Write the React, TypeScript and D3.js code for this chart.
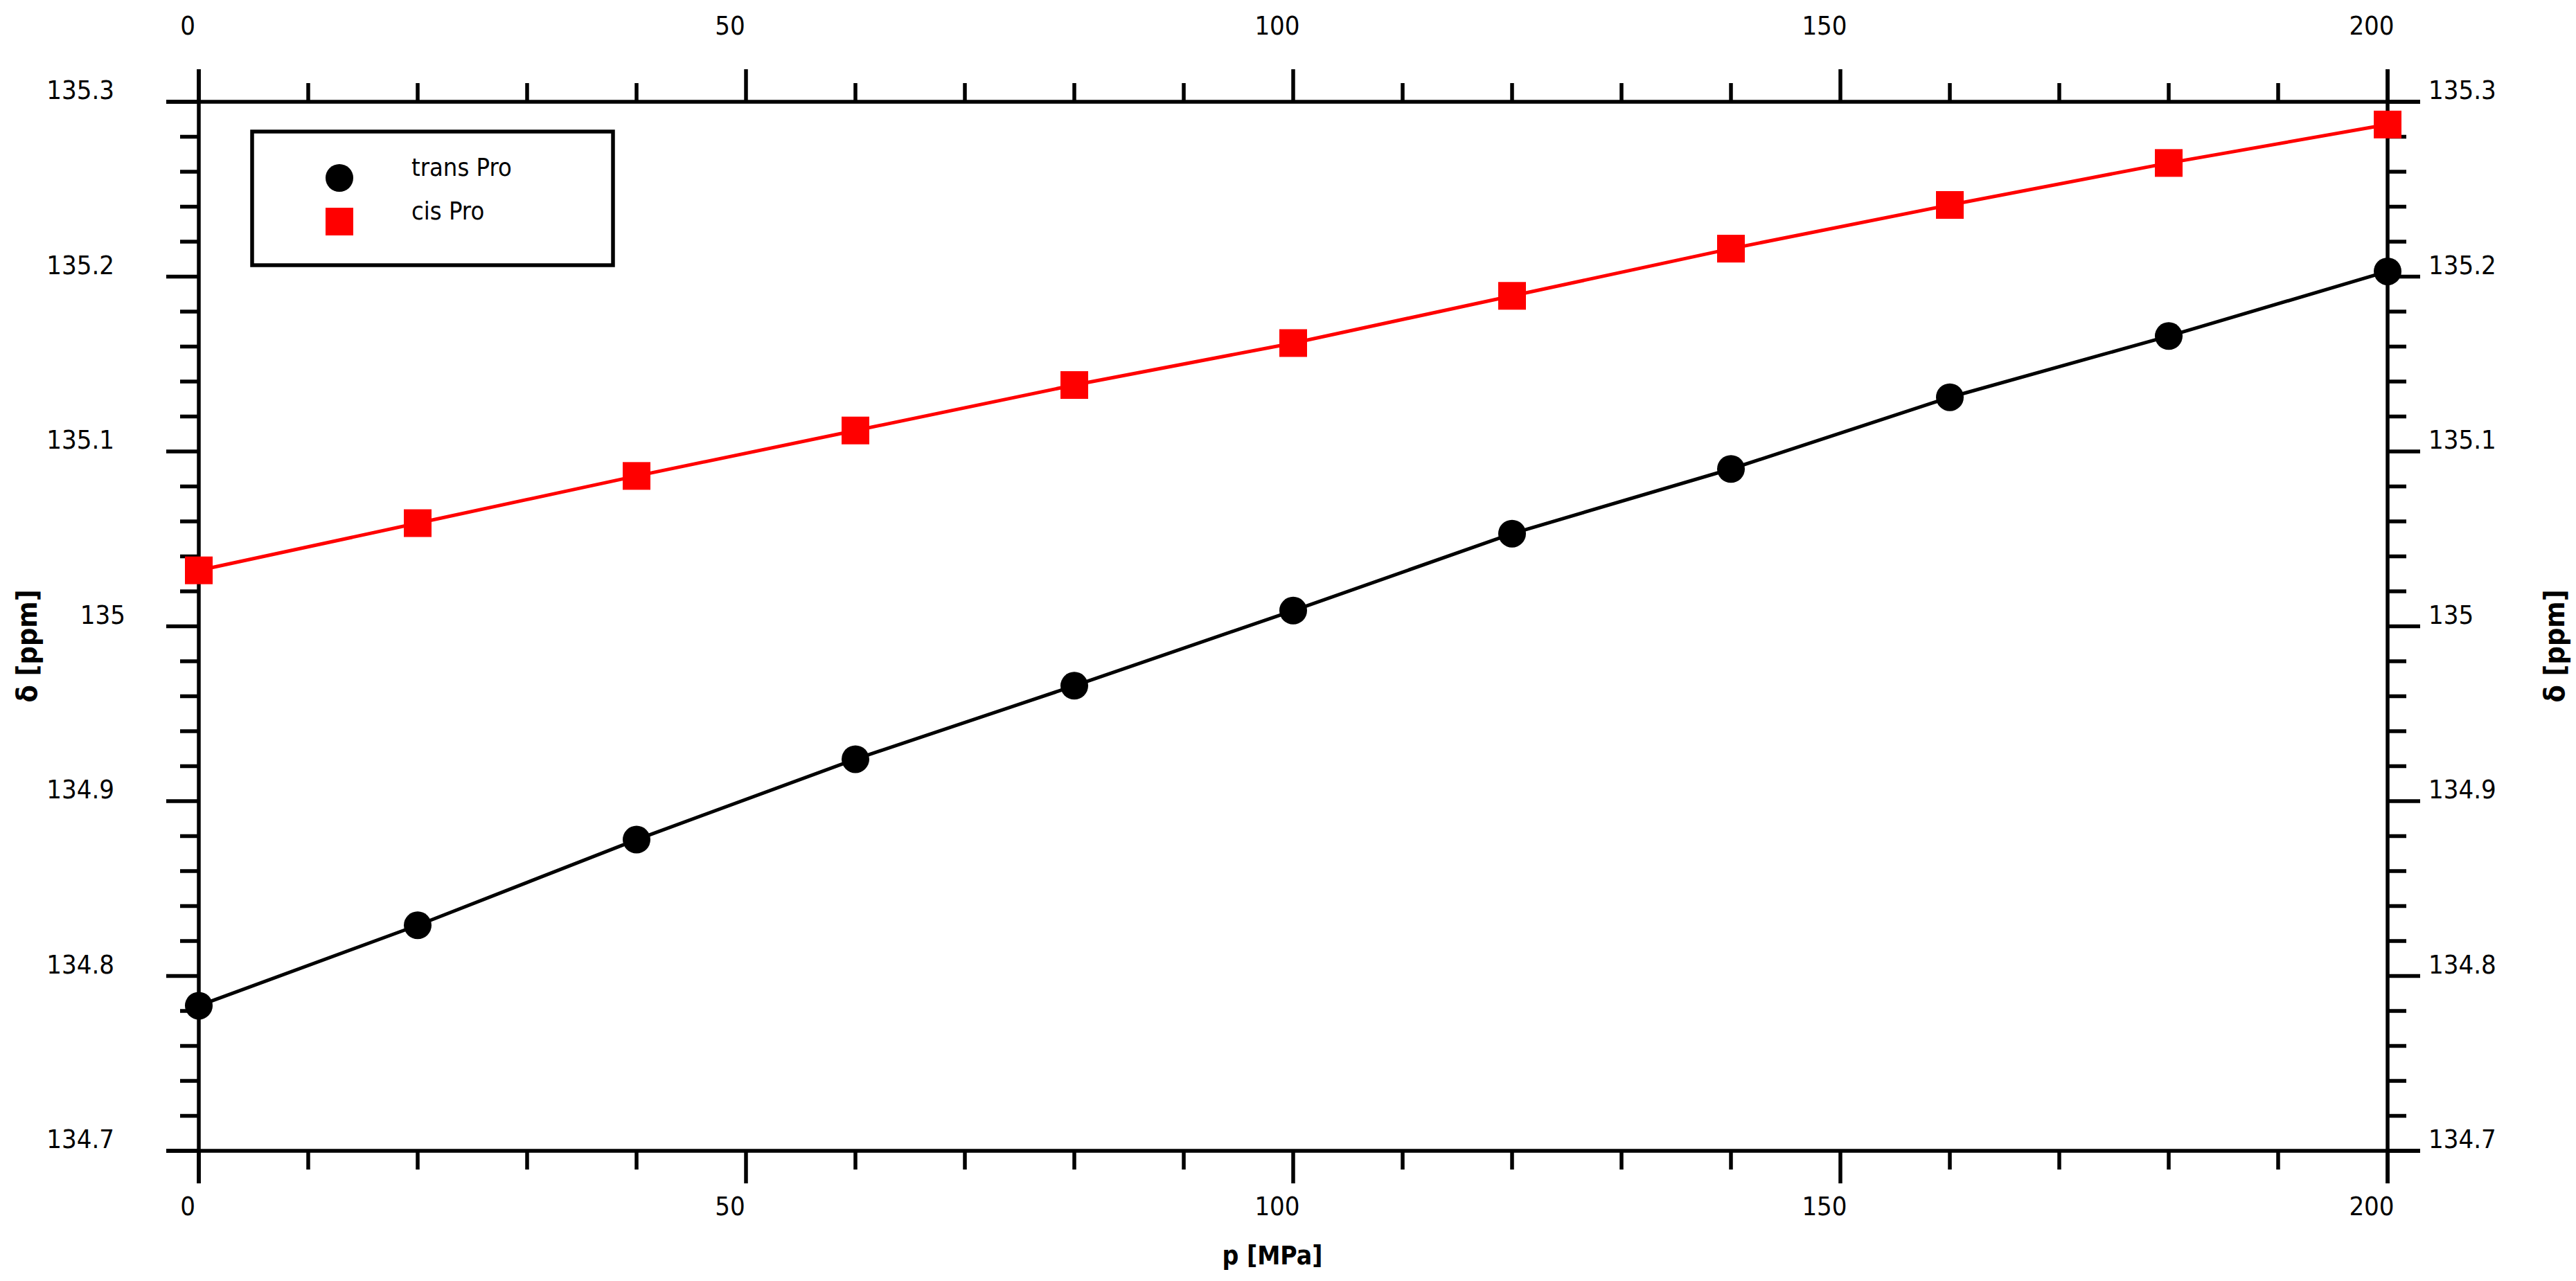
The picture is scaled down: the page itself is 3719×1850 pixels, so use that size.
import React from "react";
import * as d3 from "d3";

// ---- data ----
const pressures = [0, 20, 40, 60, 80, 100, 120, 140, 160, 180, 200];
const transPro = [134.783, 134.829, 134.878, 134.924, 134.966, 135.009, 135.053, 135.090, 135.131, 135.166, 135.203];
const cisPro = [135.032, 135.059, 135.086, 135.112, 135.138, 135.162, 135.189, 135.216, 135.241, 135.265, 135.287];

const xMajorTicks = [0, 50, 100, 150, 200];
const xTickLabels = ["0", "50", "100", "150", "200"];
const yMajorTicks = [134.7, 134.8, 134.9, 135.0, 135.1, 135.2, 135.3];
const yTickLabels = ["134.7", "134.8", "134.9", "135", "135.1", "135.2", "135.3"];

const seriesNames = ["trans Pro", "cis Pro"];
const seriesColors = ["#000000", "#ff0000"];

const W = 3719;
const H = 1850;
const L = 287, R = 3447, T = 147, B = 1662;
const MAJ = 47, MIN = 27;
const SW = 5.5;
const FONT = "'DejaVu Sans Condensed', 'DejaVu Sans', sans-serif";

export default function App() {
  const x = d3.scaleLinear().domain([0, 200]).range([L, R]);
  const y = d3.scaleLinear().domain([134.7, 135.3]).range([B, T]);

  const xMinor = x.ticks(20).filter((v) => !xMajorTicks.includes(v));
  const yMinor = y.ticks(30).filter((v) => !yMajorTicks.some((m) => Math.abs(m - v) < 1e-6));

  const line = d3
    .line<number>()
    .x((_, i) => x(pressures[i]))
    .y((d) => y(d));

  const xLabelDx = (s: string) => (s.length === 1 ? -16 : -23);

  return (
    <svg
      width={W}
      height={H}
      style={{ position: "absolute", left: 0, top: 0, background: "#fff" }}
      fontFamily={FONT}
    >
      <rect x={0} y={0} width={W} height={H} fill="#fff" />
      {/* axis lines (extending past frame) */}
      <g stroke="#000" strokeWidth={SW} fill="none">
        <line x1={L - MAJ} x2={R + MAJ} y1={T} y2={T} />
        <line x1={L - MAJ} x2={R + MAJ} y1={B} y2={B} />
        <line x1={L} x2={L} y1={T - MAJ} y2={B + MAJ} />
        <line x1={R} x2={R} y1={T - MAJ} y2={B + MAJ} />
        {/* x ticks */}
        {xMajorTicks.map((v) => (
          <g key={"xm" + v}>
            <line x1={x(v)} x2={x(v)} y1={T} y2={T - MAJ} />
            <line x1={x(v)} x2={x(v)} y1={B} y2={B + MAJ} />
          </g>
        ))}
        {xMinor.map((v) => (
          <g key={"xn" + v}>
            <line x1={x(v)} x2={x(v)} y1={T} y2={T - MIN} />
            <line x1={x(v)} x2={x(v)} y1={B} y2={B + MIN} />
          </g>
        ))}
        {/* y ticks */}
        {yMajorTicks.map((v) => (
          <g key={"ym" + v}>
            <line x1={L} x2={L - MAJ} y1={y(v)} y2={y(v)} />
            <line x1={R} x2={R + MAJ} y1={y(v)} y2={y(v)} />
          </g>
        ))}
        {yMinor.map((v) => (
          <g key={"yn" + v}>
            <line x1={L} x2={L - MIN} y1={y(v)} y2={y(v)} />
            <line x1={R} x2={R + MIN} y1={y(v)} y2={y(v)} />
          </g>
        ))}
      </g>

      {/* tick labels */}
      <g fontSize={38} fill="#000">
        {xMajorTicks.map((v, i) => (
          <g key={"xl" + v}>
            <text x={x(v) + xLabelDx(xTickLabels[i])} y={50} textAnchor="middle">
              {xTickLabels[i]}
            </text>
            <text x={x(v) + xLabelDx(xTickLabels[i])} y={1755} textAnchor="middle">
              {xTickLabels[i]}
            </text>
          </g>
        ))}
        {yMajorTicks.map((v, i) => (
          <g key={"yl" + v}>
            <text
              x={yTickLabels[i].includes(".") ? 165 : 181}
              y={y(v) - 4}
              textAnchor="end"
            >
              {yTickLabels[i]}
            </text>
            <text x={R + 59} y={y(v) - 4} textAnchor="start">
              {yTickLabels[i]}
            </text>
          </g>
        ))}
      </g>

      {/* axis titles */}
      <g fontWeight="bold" fill="#000">
        <text x={1837} y={1826} fontSize={37} textAnchor="middle">
          p [MPa]
        </text>
        <text
          transform={`translate(53, 933) rotate(-90)`}
          fontSize={41}
          textAnchor="middle"
        >
          δ [ppm]
        </text>
        <text
          transform={`translate(3702, 933) rotate(-90)`}
          fontSize={41}
          textAnchor="middle"
        >
          δ [ppm]
        </text>
      </g>

      {/* data lines */}
      <path d={line(transPro) || ""} fill="none" stroke={seriesColors[0]} strokeWidth={5} />
      <path d={line(cisPro) || ""} fill="none" stroke={seriesColors[1]} strokeWidth={5} />

      {/* markers */}
      {transPro.map((v, i) => (
        <circle key={"t" + i} cx={x(pressures[i])} cy={y(v)} r={20} fill={seriesColors[0]} />
      ))}
      {cisPro.map((v, i) => (
        <rect
          key={"c" + i}
          x={x(pressures[i]) - 20}
          y={y(v) - 20}
          width={40}
          height={40}
          fill={seriesColors[1]}
        />
      ))}

      {/* legend */}
      <rect x={364} y={190} width={521} height={193} fill="#fff" stroke="#000" strokeWidth={5.5} />
      <circle cx={490} cy={257} r={20} fill={seriesColors[0]} />
      <rect x={470} y={300} width={40} height={40} fill={seriesColors[1]} />
      <g fontSize={36} fill="#000">
        <text x={594} y={254}>{seriesNames[0]}</text>
        <text x={594} y={317}>{seriesNames[1]}</text>
      </g>
    </svg>
  );
}
